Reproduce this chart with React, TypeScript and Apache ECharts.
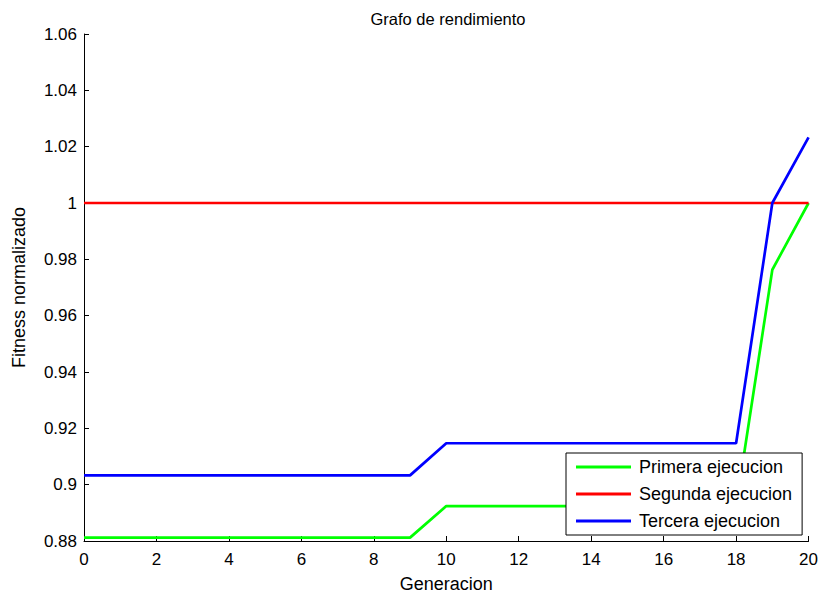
import React, { useEffect, useRef } from "react";
import * as echarts from "echarts";

const generations = [0, 1, 2, 3, 4, 5, 6, 7, 8, 9, 10, 11, 12, 13, 14, 15, 16, 17, 18, 19, 20];
const primera = [0.8812, 0.8812, 0.8812, 0.8812, 0.8812, 0.8812, 0.8812, 0.8812, 0.8812, 0.8812, 0.8924, 0.8924, 0.8924, 0.8924, 0.8924, 0.8924, 0.8924, 0.8924, 0.8924, 0.9763, 1.0];
const segunda = [1, 1, 1, 1, 1, 1, 1, 1, 1, 1, 1, 1, 1, 1, 1, 1, 1, 1, 1, 1, 1];
const tercera = [0.9033, 0.9033, 0.9033, 0.9033, 0.9033, 0.9033, 0.9033, 0.9033, 0.9033, 0.9033, 0.9147, 0.9147, 0.9147, 0.9147, 0.9147, 0.9147, 0.9147, 0.9147, 0.9147, 1.0, 1.0233];
const seriesNames = ["Primera ejecucion", "Segunda ejecucion", "Tercera ejecucion"];
const seriesColors = ["#00ff00", "#ff0000", "#0000ff"];

const FONT = "Liberation Sans, Arial, sans-serif";

export default function App() {
  const ref = useRef<HTMLDivElement>(null);

  useEffect(() => {
    if (!ref.current) return;
    const chart = echarts.init(ref.current, undefined, { renderer: "svg" });
    const values = [primera, segunda, tercera];
    chart.setOption({
      animation: false,
      backgroundColor: "#ffffff",
      title: {
        text: "Grafo de rendimiento",
        left: 443,
        textAlign: "center",
        top: 5,
        textStyle: { fontFamily: FONT, fontSize: 16.5, fontWeight: "normal", color: "#000" },
      },
      grid: { left: 84, right: 11, top: 34, bottom: 55, containLabel: false },
      legend: {
        left: 566,
        top: 453,
        orient: "vertical",
        backgroundColor: "#ffffff",
        borderColor: "#000000",
        borderWidth: 1,
        padding: [5, 10, 5, 10],
        itemGap: 9,
        icon: "rect",
        itemWidth: 55,
        itemHeight: 3,
        textStyle: { fontFamily: FONT, fontSize: 18, lineHeight: 18, color: "#000", padding: [0, 0, 0, 3] },
        data: seriesNames,
      },
      xAxis: {
        type: "value",
        min: 0,
        max: 20,
        interval: 2,
        name: "Generacion",
        nameLocation: "middle",
        nameGap: 34,
        nameTextStyle: { fontFamily: FONT, fontSize: 18, color: "#000" },
        axisLine: { show: true, lineStyle: { color: "#000", width: 1 } },
        axisTick: { show: true, inside: true, length: 5, lineStyle: { color: "#000" } },
        axisLabel: { fontFamily: FONT, fontSize: 17, color: "#000", margin: 10 },
        splitLine: { show: false },
      },
      yAxis: {
        type: "value",
        min: 0.88,
        max: 1.06,
        interval: 0.02,
        name: "Fitness normalizado",
        nameLocation: "middle",
        nameGap: 56,
        nameTextStyle: { fontFamily: FONT, fontSize: 18, color: "#000" },
        axisLine: { show: true, lineStyle: { color: "#000", width: 1 } },
        axisTick: { show: true, inside: true, length: 5, lineStyle: { color: "#000" } },
        axisLabel: {
          fontFamily: FONT,
          fontSize: 17,
          color: "#000",
          margin: 7,
          formatter: (v: number) => String(parseFloat(v.toFixed(2))),
        },
        splitLine: { show: false },
      },
      series: seriesNames.map((name, i) => ({
        name,
        type: "line",
        data: generations.map((g, j) => [g, values[i][j]]),
        showSymbol: false,
        symbol: "none",
        lineStyle: { color: seriesColors[i], width: 2.7 },
        itemStyle: { color: seriesColors[i] },
        z: 2 + i,
      })),
    });
    return () => chart.dispose();
  }, []);

  return (
    <div
      ref={ref}
      style={{ position: "fixed", left: 0, top: 0, width: 821, height: 598 }}
    />
  );
}
